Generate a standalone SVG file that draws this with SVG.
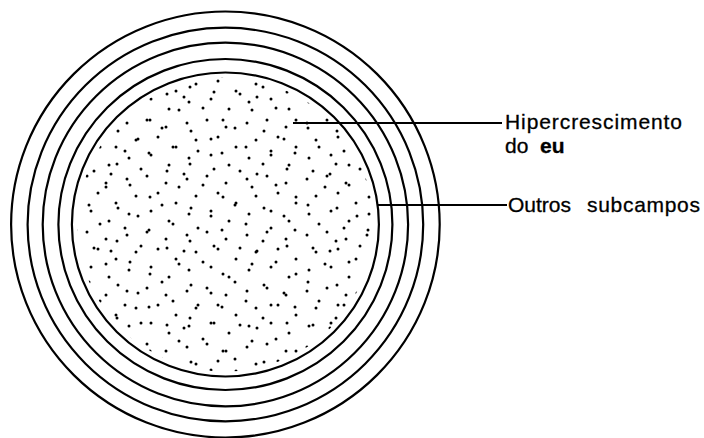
<svg xmlns="http://www.w3.org/2000/svg" width="704" height="438" viewBox="0 0 704 438">
<style>
.ring{fill:none;stroke:#000;stroke-width:2.2}
.lead{stroke:#000;stroke-width:2}
.lbl{font-family:"Liberation Sans",Arial,sans-serif;font-size:21px;fill:#000;stroke:#000;stroke-width:0.3}
.b{font-weight:bold}
.d{fill:#000}
</style>
<defs>
<pattern id="pa" patternUnits="userSpaceOnUse" x="3" y="5" width="60" height="56">
<g class="d">
<circle cx="4" cy="6" r="1.5"/><circle cx="24" cy="3" r="1.5"/><circle cx="43" cy="10" r="1.5"/>
<circle cx="13" cy="23" r="1.5"/><circle cx="35" cy="20" r="1.5"/><circle cx="53" cy="30" r="1.5"/>
<circle cx="6" cy="41" r="1.5"/><circle cx="28" cy="38" r="1.5"/><circle cx="46" cy="48" r="1.5"/>
</g>
</pattern>
<pattern id="pb" patternUnits="userSpaceOnUse" x="11" y="2" width="73" height="77">
<g class="d">
<circle cx="10" cy="15" r="1.5"/><circle cx="33" cy="8" r="1.5"/><circle cx="57" cy="13" r="1.5"/>
<circle cx="22" cy="31" r="1.5"/><circle cx="46" cy="29" r="1.5"/><circle cx="66" cy="41" r="1.5"/>
<circle cx="5" cy="49" r="1.5"/><circle cx="34" cy="52" r="1.5"/><circle cx="54" cy="60" r="1.5"/>
<circle cx="16" cy="68" r="1.5"/><circle cx="41" cy="72" r="1.5"/><circle cx="65" cy="74" r="1.5"/>
<circle cx="27" cy="18" r="1.5"/>
</g>
</pattern>
</defs>
<rect width="704" height="438" fill="#fff"/>
<g id="subcampos">
<ellipse class="ring" cx="225.4" cy="224.5" rx="214.3" ry="213"/>
<ellipse class="ring" cx="225.4" cy="224.5" rx="197.8" ry="196.8"/>
<ellipse class="ring" cx="225.4" cy="224.5" rx="182.7" ry="181.8"/>
<ellipse class="ring" cx="225.4" cy="224.5" rx="167" ry="165.5"/>
</g>
<g id="eu">
<ellipse cx="225.4" cy="224.5" rx="148" ry="147" fill="url(#pa)"/>
<ellipse cx="225.4" cy="224.5" rx="148" ry="147" fill="url(#pb)"/>
<ellipse class="ring" cx="225.4" cy="224.5" rx="153.5" ry="152"/>
</g>
<g id="connectors">
<line class="lead" x1="293" y1="123" x2="502" y2="123"/>
<line class="lead" x1="377" y1="205" x2="507" y2="205"/>
</g>
<g id="label-eu">
<text class="lbl" x="505" y="129" textLength="177" lengthAdjust="spacing">Hipercrescimento</text>
<text class="lbl" x="505" y="153">do <tspan class="b" x="540">eu</tspan></text>
</g>
<g id="label-subcampos">
<text class="lbl" x="508" y="212">Outros<tspan x="587" textLength="113" lengthAdjust="spacing">subcampos</tspan></text>
</g>
</svg>
